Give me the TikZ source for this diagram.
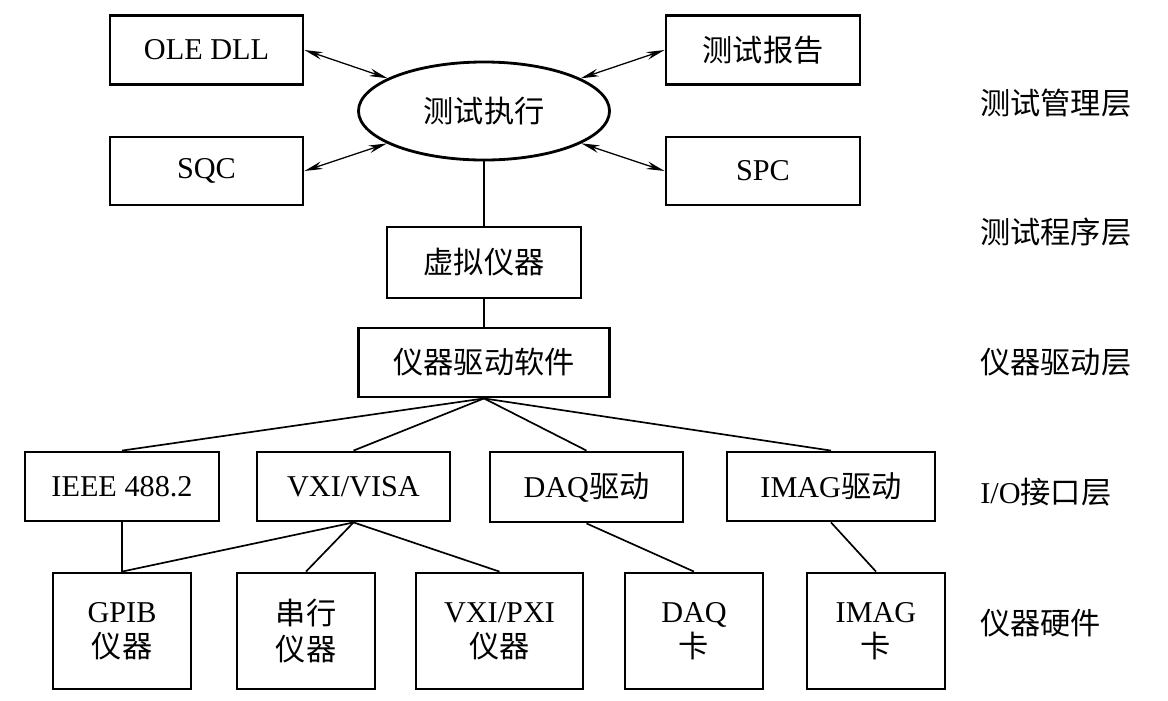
\documentclass[tikz,border=0pt]{standalone}
\usepackage{fontspec}
\setmainfont{Liberation Serif}
\newfontfamily\cjk{Noto Sans CJK SC}
\usetikzlibrary{arrows.meta,shapes.geometric}
\newcommand{\zh}[1]{{\cjk #1}}
\tikzset{
  box/.style={draw, line width=2pt, inner sep=0pt, align=center,
    font=\fontsize{21.5}{25}\selectfont},
  layer/.style={anchor=west, inner sep=0pt, font=\fontsize{21.5}{25}\selectfont},
  dbl/.style={{Stealth[length=13pt,width=5.5pt]}-{Stealth[length=13pt,width=5.5pt]}, line width=0.9pt},
  link/.style={line width=1.2pt}
}
\begin{document}
\begin{tikzpicture}[x=0.025cm, y=-0.025cm]
\useasboundingbox (0,0) rectangle (1168,700);
% test management layer
\node[box, minimum width=4.825cm, minimum height=1.725cm] (ole) at (206.5,50) {OLE DLL};
\node[box, minimum width=4.85cm, minimum height=1.725cm] (report) at (763,50) {\zh{测试报告}};
\node[box, minimum width=4.825cm, minimum height=1.7cm] (sqc) at (206.5,171) {SQC};
\node[box, minimum width=4.85cm, minimum height=1.7cm] (spc) at (763,171) {SPC};
\node[box, ellipse, minimum width=6.275cm, minimum height=2.45cm] (exec) at (484,111) {\zh{测试执行}};
% program and driver
\node[box, minimum width=4.85cm, minimum height=1.775cm] (vi) at (484,262.5) {\zh{虚拟仪器}};
\node[box, minimum width=6.275cm, minimum height=1.725cm] (driver) at (484,362.5) {\zh{仪器驱动软件}};
% i/o interfaces
\node[box, minimum width=4.85cm, minimum height=1.725cm] (ieee) at (122,486.5) {IEEE 488.2};
\node[box, minimum width=4.825cm, minimum height=1.725cm] (visa) at (353.5,486.5) {VXI/VISA};
\node[box, minimum width=4.825cm, minimum height=1.75cm] (daq) at (586.5,487) {DAQ\zh{驱动}};
\node[box, minimum width=5.2cm, minimum height=1.725cm] (imag) at (831,486.5) {IMAG\zh{驱动}};
% hardware
\node[box, minimum width=3.45cm, minimum height=2.9cm] (gpib) at (122,631) {GPIB\\\zh{仪器}};
\node[box, minimum width=3.45cm, minimum height=2.9cm] (serial) at (306,631) {\zh{串行}\\\zh{仪器}};
\node[box, minimum width=4.175cm, minimum height=2.9cm] (pxi) at (499.5,631) {VXI/PXI\\\zh{仪器}};
\node[box, minimum width=3.45cm, minimum height=2.9cm] (daqcard) at (694,631) {DAQ\\\zh{卡}};
\node[box, minimum width=3.45cm, minimum height=2.9cm] (imagcard) at (876,631) {IMAG\\\zh{卡}};
% layer names
\node[layer] (l1) at (980,103) {\zh{测试管理层}};
\node[layer] (l2) at (980,232) {\zh{测试程序层}};
\node[layer] (l3) at (980,362) {\zh{仪器驱动层}};
\node[layer] (l4) at (980,492) {I/O\zh{接口层}};
\node[layer] (l5) at (980,623) {\zh{仪器硬件}};
% connectors
\foreach \n in {ole,sqc}
\draw[dbl] (\n.east) -- (exec);
\foreach \n in {report,spc}
\draw[dbl] (\n.west) -- (exec);
\draw[link] (exec.south) -- (vi.north);
\draw[link] (vi.south) -- (driver.north);
\foreach \n in {ieee,visa,daq,imag}
\draw[link] (driver.south) -- (\n.north);
\draw[link] (ieee.south) -- (gpib.north);
\foreach \n in {gpib,serial,pxi}
\draw[link] (visa.south) -- (\n.north);
\draw[link] (daq.south) -- (daqcard.north);
\draw[link] (imag.south) -- (imagcard.north);
\end{tikzpicture}
\end{document}
